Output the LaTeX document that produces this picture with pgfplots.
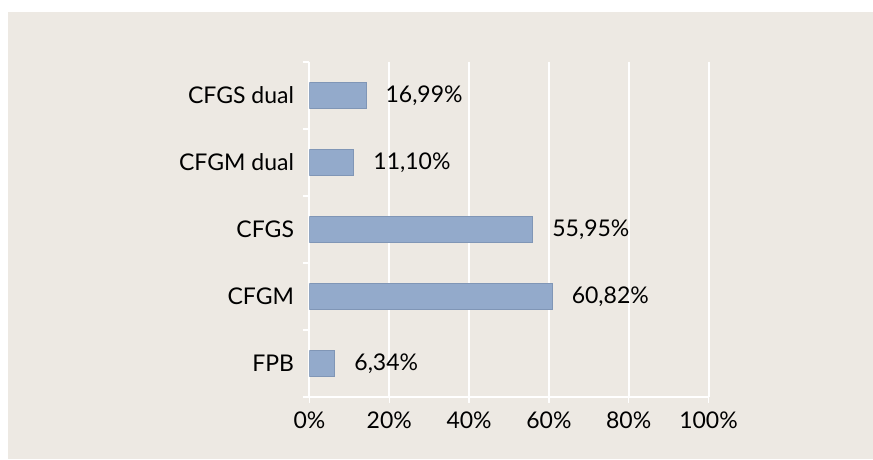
\documentclass[border=0pt]{standalone}
\usepackage{pgfplots}
\pgfplotsset{compat=1.18}
\usepackage{fontspec}
\setmainfont{Lato}[Numbers=Monospaced]
\definecolor{bg}{RGB}{237,233,227}
\definecolor{barfill}{RGB}{147,170,203}
\definecolor{bardraw}{RGB}{128,150,182}
\begin{document}
\begin{tikzpicture}[x=1pt,y=1pt]
\path[use as bounding box, fill=white] (-309.5,-62) rectangle (563.5,397);
\fill[bg] (-301.5,-62) rectangle (563.5,385);
\begin{axis}[
  at={(0,0)}, anchor=south west,
  scale only axis, width=399pt, height=335pt,
  xmin=0, xmax=100, ymin=-0.5, ymax=4.5,
  xbar, bar width=26pt,
  axis x line*=bottom, axis y line*=left,
  axis line style={white, line width=1.5pt},
  xmajorgrids, major grid style={white, line width=2pt},
  tick align=outside,
  major tick length=6pt,
  xtick={0,20,40,60,80,100},
  xticklabels={0\%,20\%,40\%,60\%,80\%,100\%},
  tick style={white, line width=1.5pt},
  ytick={-0.5,0.5,1.5,2.5,3.5,4.5},
  yticklabels={},
  extra y ticks={0,1,2,3,4},
  extra y tick labels={FPB,CFGM,CFGS,CFGM dual,CFGS dual},
  extra y tick style={major tick length=0pt},
  tick label style={font=\fontsize{23}{27}\selectfont, text=black},
  yticklabel style={anchor=east, xshift=-12pt},
  xticklabel style={yshift=-5pt},
  /pgf/number format/assume math mode=true,
]
\addplot[fill=barfill, draw=bardraw, line width=0.6pt,
  nodes near coords, point meta=explicit symbolic,
  nodes near coords style={anchor=west, xshift=16pt, font=\fontsize{23}{27}\selectfont, text=black}]
  coordinates {
    (6.34,0) [6,34\%]
    (60.82,1) [60,82\%]
    (55.95,2) [55,95\%]
    (11.10,3) [11,10\%]
    (14.15,4) [16,99\%]
  };
\end{axis}
\end{tikzpicture}
\end{document}
